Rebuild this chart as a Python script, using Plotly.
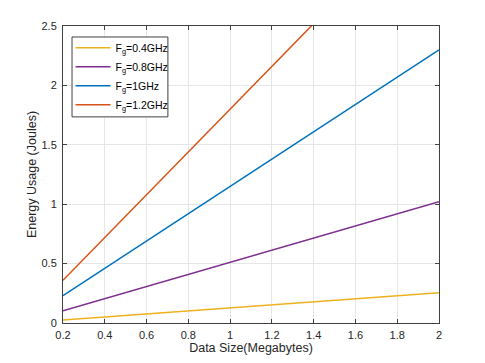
import plotly.graph_objects as go

# tamaño de datos (MB) y energía (J)
data_size = [0.2, 0.4, 0.6, 0.8, 1.0, 1.2, 1.4, 1.6, 1.8, 2.0]
e_04ghz = [0.0255, 0.051, 0.0765, 0.102, 0.1275, 0.153, 0.1785, 0.204, 0.2295, 0.255]
e_08ghz = [0.102, 0.204, 0.306, 0.408, 0.51, 0.612, 0.714, 0.816, 0.918, 1.02]
e_1ghz = [0.23, 0.46, 0.69, 0.92, 1.15, 1.38, 1.61, 1.84, 2.07, 2.30]
e_12ghz = [0.36, 0.72, 1.08, 1.44, 1.80, 2.16, 2.52, 2.88, 3.24, 3.60]

names = ['F<sub>g</sub>=0.4GHz', 'F<sub>g</sub>=0.8GHz', 'F<sub>g</sub>=1GHz', 'F<sub>g</sub>=1.2GHz']
colors = ['#EDB120', '#7E2F8E', '#0072BD', '#D95319']
series = [e_04ghz, e_08ghz, e_1ghz, e_12ghz]

fig = go.Figure()
for name, col, y in zip(names, colors, series):
    fig.add_trace(go.Scatter(x=data_size, y=y, name=name, mode='lines',
                             line=dict(color=col, width=1.5)))

axis_style = dict(showline=True, linecolor='#404040', linewidth=1, mirror='ticks',
                  ticks='inside', ticklen=4, tickcolor='#404040',
                  showgrid=True, gridcolor='#E6E6E6', gridwidth=1, zeroline=False,
                  automargin=False,
                  tickfont=dict(size=11, color='#262626'))

# caja de la leyenda dibujada aparte para que quede más ajustada (estilo matlab)
fig.add_shape(type='rect', xref='paper', yref='paper',
              x0=0.024, x1=0.279, y0=0.694, y1=0.963,
              line=dict(color='#404040', width=1), fillcolor='white', layer='above')

# la página tiene 8px de margen en el body: se compensa con el tamaño de la figura
fig.update_layout(
    width=477, height=355,
    margin=dict(l=55, r=46, t=18, b=40),
    paper_bgcolor='white', plot_bgcolor='white',
    font=dict(family='Liberation Sans, Arial, sans-serif', color='#262626'),
    xaxis=dict(range=[0.2, 2], dtick=0.2, tick0=0.2, ticklabelstandoff=2,
               title=dict(text='Data Size(Megabytes)', font=dict(size=12.5), standoff=2),
               **axis_style),
    yaxis=dict(range=[0, 2.5], dtick=0.5, ticklabelstandoff=3,
               title=dict(text='Energy Usage (Joules)', font=dict(size=12.5), standoff=2),
               **axis_style),
    legend=dict(x=0.02, y=0.976, xanchor='left', yanchor='top',
                bgcolor='rgba(0,0,0,0)', borderwidth=0,
                font=dict(size=10.5, color='#000000'), tracegroupgap=0,
                itemwidth=35),
    showlegend=True,
)

fig.write_html("out.html")
